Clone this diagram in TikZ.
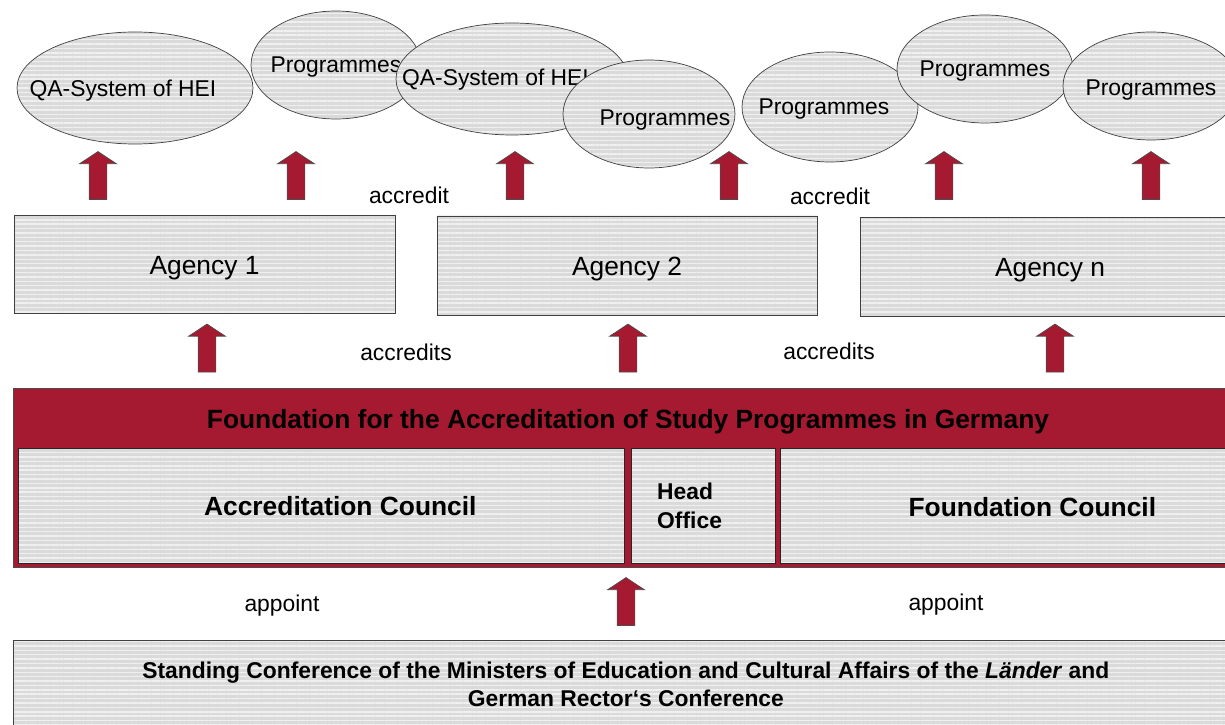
\documentclass[tikz,border=0pt]{standalone}
\usepackage{fontspec}
\setmainfont{Liberation Sans}
\usepackage{tikz}
\usetikzlibrary{arrows,positioning,shapes.geometric,shapes.arrows,patterns.meta}
\definecolor{darkred}{HTML}{A51931}
\definecolor{stripegray}{HTML}{DADADA}
\definecolor{stripelight}{HTML}{F0F0F0}
\tikzset{
  %Define striped grey fill
  striped/.style={
    preaction={fill=stripegray},
    pattern={Lines[angle=0,distance=2.5pt,line width=0.85pt]},
    pattern color=stripelight},
  %Define style for ellipses
  blob/.style={
    ellipse,
    striped,
    draw=black!75,
    inner sep=0pt},
  %Define style for boxes
  punkt/.style={
    rectangle,
    striped,
    draw=black!75,
    inner sep=0pt},
  % Define block arrow style
  pil/.style={
    single arrow,
    rotate=90,
    draw=black!70,
    fill=darkred,
    inner sep=0.17cm,
    minimum height=0.96cm,
    single arrow head extend=0.19cm,
    single arrow tip angle=113},
  txt/.style={font=\fontsize{13}{16}\selectfont},
  bigtxt/.style={font=\fontsize{15}{18}\selectfont},
  boldtxt/.style={font=\bfseries\fontsize{15}{18}\selectfont}
}

\begin{document}
\begin{tikzpicture}
  \useasboundingbox (0,0) rectangle (24.5,-14.5);
  \clip (0,0) rectangle (24.5,-14.5);
  % accredited objects
  \node[blob, minimum width=4.72cm, minimum height=2.24cm,
    label={[txt, xshift=-0.24cm, yshift=-0.06cm]center:QA-System of HEI}] (qa1) at (2.70,-1.76) {};
  \node[blob, minimum width=3.40cm, minimum height=2.16cm,
    label={[txt, yshift=-0.05cm]center:Programmes}] (prog1) at (6.72,-1.30) {};
  \node[blob, minimum width=4.64cm, minimum height=2.24cm,
    label={[txt, xshift=-0.33cm, yshift=-0.02cm]center:QA-System of HEI}] (qa2) at (10.24,-1.58) {};
  \node[blob, minimum width=3.44cm, minimum height=2.16cm,
    label={[txt, xshift=0.32cm, yshift=-0.12cm]center:Programmes}] (prog2) at (12.98,-2.28) {};
  \node[blob, minimum width=3.52cm, minimum height=2.20cm,
    label={[txt, xshift=-0.12cm, yshift=-0.05cm]center:Programmes}] (prog3) at (16.60,-2.14) {};
  \node[blob, minimum width=3.52cm, minimum height=2.16cm,
    label={[txt, yshift=-0.05cm]center:Programmes}] (prog4) at (19.70,-1.38) {};
  \node[blob, minimum width=3.52cm, minimum height=2.16cm,
    label={[txt, yshift=-0.08cm]center:Programmes}] (prog5) at (23.02,-1.72) {};

  % agencies
  \node[punkt, minimum width=7.62cm, minimum height=1.96cm,
    label={[bigtxt, yshift=-0.08cm]center:Agency 1}] (agA) at (4.09,-5.28) {};
  \node[punkt, minimum width=7.60cm, minimum height=1.98cm,
    label={[bigtxt, yshift=-0.08cm]center:Agency 2}] (agB) at (12.54,-5.31) {};
  \node[punkt, minimum width=7.60cm, minimum height=1.98cm,
    label={[bigtxt, yshift=-0.08cm]center:Agency n}] (agN) at (21.00,-5.33) {};

  \node[pil] (pA1) at (1.96,-3.57) {};
  \node[pil] (pA2) at (5.92,-3.57) {};
  \node[pil] (pB1) at (10.30,-3.57) {};
  \node[pil] (pB2) at (14.58,-3.57) {};
  \node[pil] (pN1) at (18.88,-3.57) {};
  \node[pil] (pN2) at (23.02,-3.57) {};
  \node[txt] (acc1) at (8.18,-3.90) {accredit};
  \node[txt] (acc2) at (16.60,-3.92) {accredit};

  \node[pil] (pF1) at (4.14,-7.02) {};
  \node[pil] (pF2) at (12.56,-7.02) {};
  \node[pil] (pF3) at (21.10,-7.02) {};
  \node[txt] (accs1) at (8.12,-7.04) {accredits};
  \node[txt] (accs2) at (16.58,-7.02) {accredits};

  % foundation
  \node[rectangle, fill=darkred, draw=black!70, anchor=north west,
    minimum width=24.6cm, minimum height=3.58cm] (found) at (0.26,-7.76) {};
  \node[boldtxt] (foundtitle) at (12.56,-8.44) {Foundation for the Accreditation of Study Programmes in Germany};
  \node[punkt, draw=black!85, anchor=north west, minimum width=12.12cm, minimum height=2.30cm,
    label={[boldtxt, xshift=0.38cm]center:Accreditation Council}] (council) at (0.36,-8.96) {};
  \node[punkt, draw=black!85, anchor=north west, minimum width=2.88cm, minimum height=2.30cm] (office) at (12.62,-8.96) {};
  \node[anchor=west, align=left, font=\bfseries\fontsize{13}{16}\selectfont] (officetxt)
    at ([xshift=0.40cm]office.west) {Head\\Office};
  \node[punkt, draw=black!85, anchor=north west, minimum width=9.0cm, minimum height=2.30cm,
    label={[boldtxt, xshift=0.54cm, yshift=-0.02cm]center:Foundation Council}] (fcouncil) at (15.60,-8.96) {};

  % ministers
  \node[pil] (pM) at (12.52,-12.09) {};
  \node[txt] (app1) at (5.64,-12.12) {appoint};
  \node[txt] (app2) at (18.92,-12.10) {appoint};
  \node[punkt, anchor=north west, minimum width=24.5cm, minimum height=2.0cm,
    label={[align=center, font=\bfseries\fontsize{13}{16}\selectfont, yshift=0.12cm]center:Standing Conference of the Ministers of Education and Cultural Affairs of the \textit{Länder} and\\German Rector‘s Conference}] (kmk) at (0.26,-12.80) {};
\end{tikzpicture}
\end{document}
